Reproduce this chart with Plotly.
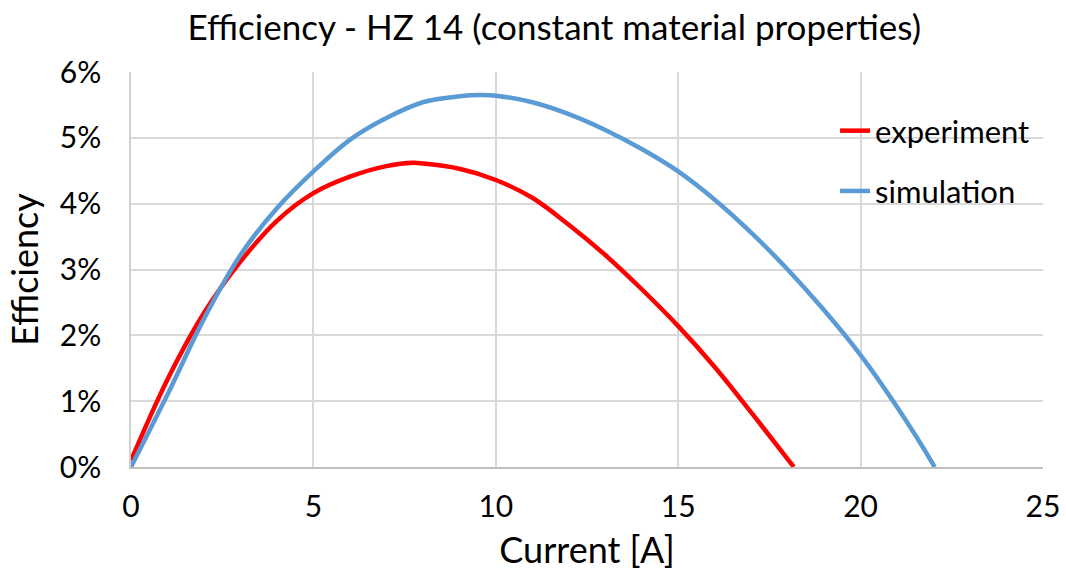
import plotly.graph_objects as go

# Efficiency (%) vs. current (A)
current_experiment = [0, 1, 2, 3, 4, 5, 6, 7, 7.74, 8, 9, 10, 11, 12, 13, 14, 15,
                      16, 17, 18, 18.17]
efficiency_experiment = [0.10, 1.33, 2.34, 3.12, 3.74, 4.16, 4.41, 4.57, 4.62, 4.61, 4.53,
                         4.36, 4.09, 3.68, 3.22, 2.70, 2.14, 1.52, 0.83, 0.12, 0.00]

current_simulation = [0, 1, 2, 3, 4, 5, 6, 7, 8, 9, 9.6, 10, 11, 12, 13, 14, 15,
                      16, 17, 18, 19, 20, 21, 22, 22.03]
efficiency_simulation = [0.00, 1.10, 2.25, 3.22, 3.93, 4.49, 4.97, 5.30, 5.54, 5.63, 5.65,
                         5.64, 5.54, 5.36, 5.12, 4.83, 4.49, 4.06, 3.56, 3.00, 2.38,
                         1.70, 0.91, 0.03, 0.00]

x_ticks = [0, 5, 10, 15, 20, 25]
y_ticks = [0, 1, 2, 3, 4, 5, 6]

FONT = "Lato, Calibri, sans-serif"
GRID = "#d9d9d9"

fig = go.Figure()
fig.add_trace(go.Scatter(
    x=current_experiment, y=efficiency_experiment, name="experiment",
    mode="lines", line=dict(color="#ff0000", width=4.5, shape="spline", smoothing=1),
    legendgroup="a",
))
fig.add_trace(go.Scatter(
    x=current_simulation, y=efficiency_simulation, name="simulation",
    mode="lines", line=dict(color="#5b9bd5", width=4.5, shape="spline", smoothing=1),
    legendgroup="b",
))

fig.update_layout(
    width=1066, height=571,
    margin=dict(l=131, r=23, t=72, b=104, autoexpand=False),
    paper_bgcolor="white", plot_bgcolor="white",
    font=dict(family=FONT, color="#000000", size=30),
    title=dict(text="Efficiency - HZ 14 (constant material properties)",
               x=0.52, xanchor="center", y=0.952, yanchor="middle",
               font=dict(family=FONT, size=35, color="#000000")),
    legend=dict(x=0.772, y=0.919, xanchor="left", yanchor="top",
                bgcolor="rgba(0,0,0,0)", font=dict(size=31),
                tracegroupgap=17, traceorder="grouped"),
    showlegend=True,
)
fig.update_xaxes(
    range=[0, 25], tickvals=x_ticks, ticktext=[str(v) for v in x_ticks],
    showgrid=True, gridcolor=GRID, gridwidth=1.5,
    showline=True, linecolor="#bfbfbf", linewidth=1.5,
    zeroline=False, ticks="", ticklen=0, ticklabelstandoff=12,
    automargin=False,
    title=dict(text="Current [A]", standoff=16, font=dict(size=36)),
    tickfont=dict(size=30),
)
fig.update_yaxes(
    range=[0, 6], tickvals=y_ticks, ticktext=[f"{v}%" for v in y_ticks],
    showgrid=True, gridcolor=GRID, gridwidth=1.5,
    showline=True, linecolor="#d0d0d0", linewidth=1.5,
    zeroline=False, ticks="", ticklen=0, ticklabelstandoff=22,
    automargin=False,
    title=dict(text="Efficiency", standoff=10, font=dict(size=36)),
    tickfont=dict(size=30),
)
fig.write_html("out.html")
